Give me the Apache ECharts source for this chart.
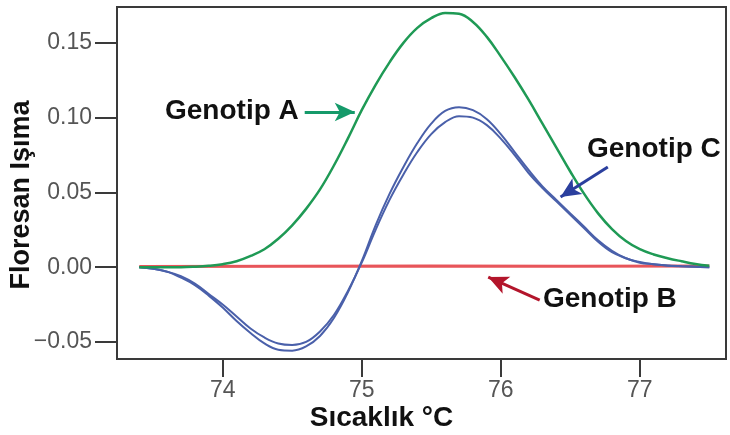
<!DOCTYPE html>
<html>
<head>
<meta charset="utf-8">
<script src="https://cdn.jsdelivr.net/npm/echarts@6/dist/echarts.min.js"></script>
<style>
  html, body { margin: 0; padding: 0; background: #fff; }
  #chart { width: 730px; height: 435px; }
</style>
</head>
<body>
<div id="chart"></div>
<script>
// temperature grid (°C) shared by the melt curves
const temps = [
  73.4, 73.5, 73.6, 73.7, 73.8, 73.9, 74.0, 74.1, 74.2, 74.3, 74.4, 74.5, 74.6, 74.7,
  74.8, 74.9, 75.0, 75.1, 75.2, 75.3, 75.4, 75.5, 75.6, 75.7, 75.8, 75.9, 76.0, 76.1,
  76.2, 76.3, 76.4, 76.5, 76.6, 76.7, 76.8, 76.9, 77.0, 77.1, 77.2, 77.3, 77.4, 77.5
];

const genotipA = [
  0, 0, 0, 0, 0.0003, 0.0009, 0.002, 0.004, 0.0075, 0.012, 0.019, 0.028, 0.039, 0.052,
  0.068, 0.086, 0.105, 0.122, 0.137, 0.150, 0.160, 0.1665, 0.170, 0.1695, 0.164, 0.154, 0.141, 0.127,
  0.112, 0.096, 0.080, 0.064, 0.049, 0.036, 0.0255, 0.0175, 0.012, 0.0085, 0.006, 0.004, 0.0022, 0.001
];

const genotipC1 = [
  0, -0.001, -0.003, -0.007, -0.012, -0.019, -0.027, -0.036, -0.044, -0.051, -0.0552, -0.0558, -0.053, -0.046,
  -0.034, -0.017, 0.004, 0.028, 0.049, 0.067, 0.083, 0.096, 0.1045, 0.107, 0.105, 0.099, 0.089, 0.077,
  0.065, 0.054, 0.045, 0.036, 0.027, 0.018, 0.011, 0.006, 0.0035, 0.002, 0.0012, 0.0007, 0.0003, 0
];

const genotipC2 = [
  0, -0.001, -0.003, -0.006, -0.011, -0.018, -0.025, -0.033, -0.041, -0.047, -0.051, -0.052, -0.050, -0.043,
  -0.032, -0.016, 0.003, 0.025, 0.045, 0.062, 0.077, 0.089, 0.097, 0.101, 0.100, 0.095, 0.086, 0.075,
  0.063, 0.053, 0.044, 0.035, 0.026, 0.017, 0.010, 0.006, 0.003, 0.002, 0.001, 0.0006, 0.0003, 0
];

const genotipBTemps = [73.4, 74.5, 75.5, 76.5, 77.5];
const genotipB = [0.0005, 0.0007, 0.0008, 0.0006, 0.0008];

const xTicks = [74, 75, 76, 77];
const yTicks = [-0.05, 0, 0.05, 0.10, 0.15];

// annotation arrows, in data coordinates: [fromX, fromY, toX, toY]
const arrowA = [74.59, 0.1038, 74.95, 0.1038];
const arrowB = [76.28, -0.022, 75.91, -0.0066];
const arrowC = [76.77, 0.067, 76.43, 0.047];

const FONT = "'Liberation Sans', Arial, sans-serif";

function pairs(xs, ys) {
  return xs.map((x, i) => [x, ys[i]]);
}

function arrow(a, color) {
  return {
    silent: true,
    symbol: ['none', 'arrow'],
    symbolSize: [14, 20],
    label: { show: false },
    lineStyle: { color, width: 3, type: 'solid' },
    emphasis: { disabled: true },
    animation: false,
    data: [[{ coord: [a[0], a[1]] }, { coord: [a[2], a[3]] }]]
  };
}

const chart = echarts.init(document.getElementById('chart'), null, { renderer: 'canvas' });

chart.setOption({
  animation: false,
  backgroundColor: '#fff',
  grid: {
    left: 117, right: 4, top: 7, bottom: 76,
    containLabel: false,
    outerBoundsMode: 'none',
    show: true,
    borderColor: '#3a3a3a',
    borderWidth: 2
  },
  xAxis: {
    type: 'value',
    min: 73.24,
    max: 77.62,
    splitLine: { show: false },
    axisLine: { show: true, onZero: false, lineStyle: { color: '#3a3a3a', width: 2 } },
    axisTick: { show: true, length: 18, customValues: xTicks, lineStyle: { color: '#3a3a3a', width: 2 } },
    axisLabel: {
      customValues: xTicks,
      margin: 20,
      color: '#555',
      fontSize: 23,
      fontFamily: FONT,
      formatter: v => String(v)
    },
    name: 'Sıcaklık °C',
    nameLocation: 'middle',
    nameGap: 45,
    nameMoveOverlap: false,
    nameTextStyle: {
      color: '#111', fontSize: 28, fontWeight: 'bold', fontFamily: FONT,
      padding: [0, 80, 0, 0]
    }
  },
  yAxis: {
    type: 'value',
    min: -0.0614,
    max: 0.174,
    splitLine: { show: false },
    axisLine: { show: true, onZero: false, lineStyle: { color: '#3a3a3a', width: 2 } },
    axisTick: { show: true, length: 22, customValues: yTicks, lineStyle: { color: '#3a3a3a', width: 2 } },
    axisLabel: {
      customValues: yTicks,
      margin: 25,
      color: '#555',
      fontSize: 23,
      fontFamily: FONT,
      formatter: v => (v < 0 ? '\u2212' + Math.abs(v).toFixed(2) : v.toFixed(2))
    },
    name: 'Floresan Işıma',
    nameLocation: 'middle',
    nameGap: 82,
    nameRotate: 90,
    nameMoveOverlap: false,
    nameTextStyle: {
      color: '#111', fontSize: 27, fontWeight: 'bold', fontFamily: FONT,
      padding: [0, 24, 0, 0]
    }
  },
  series: [
    {
      name: 'Genotip B',
      type: 'line',
      data: pairs(genotipBTemps, genotipB),
      showSymbol: false,
      lineStyle: { color: '#e8555a', width: 3 },
      z: 2,
      markLine: arrow(arrowB, '#b3152b')
    },
    {
      name: 'Genotip C',
      type: 'line',
      data: pairs(temps, genotipC1),
      smooth: 0.4,
      showSymbol: false,
      lineStyle: { color: '#4a60aa', width: 2 },
      z: 3,
      markLine: arrow(arrowC, '#2b3f9e')
    },
    {
      name: 'Genotip C (2)',
      type: 'line',
      data: pairs(temps, genotipC2),
      smooth: 0.4,
      showSymbol: false,
      lineStyle: { color: '#4a60aa', width: 2 },
      z: 3
    },
    {
      name: 'Genotip A',
      type: 'line',
      data: pairs(temps, genotipA),
      smooth: 0.4,
      showSymbol: false,
      lineStyle: { color: '#1f9a55', width: 2.5 },
      z: 4,
      markLine: arrow(arrowA, '#159a6a')
    }
  ],
  graphic: [
    {
      type: 'text', left: 165, top: 97,
      style: { text: 'Genotip A', fill: '#111', font: 'bold 28px ' + FONT }
    },
    {
      type: 'text', left: 587, top: 135,
      style: { text: 'Genotip C', fill: '#111', font: 'bold 28px ' + FONT }
    },
    {
      type: 'text', left: 543, top: 285,
      style: { text: 'Genotip B', fill: '#111', font: 'bold 28px ' + FONT }
    }
  ]
});
</script>
</body>
</html>
